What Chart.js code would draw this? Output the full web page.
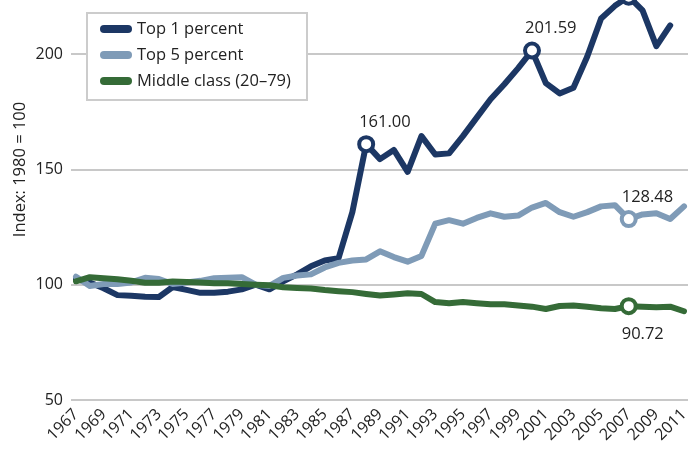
<!DOCTYPE html>
<html>
<head>
<meta charset="utf-8">
<script src="https://cdn.jsdelivr.net/npm/chart.js@4.4.0/dist/chart.umd.min.js"></script>
<style>
  html, body { margin: 0; padding: 0; background: #ffffff; overflow: hidden; }
  #wrap { position: relative; width: 688px; height: 450px; overflow: hidden; }
  #c { position: absolute; left: 0; top: -61px; }
</style>
</head>
<body>
<div id="wrap"><canvas id="c" width="688" height="520"></canvas></div>
<script>
// ---- Data ----
const years = [1967,1968,1969,1970,1971,1972,1973,1974,1975,1976,1977,1978,1979,1980,1981,1982,1983,1984,1985,1986,1987,1988,1989,1990,1991,1992,1993,1994,1995,1996,1997,1998,1999,2000,2001,2002,2003,2004,2005,2006,2007,2008,2009,2010,2011];
const seriesNames = ["Top 1 percent", "Top 5 percent", "Middle class (20\u201379)"];
const top1 = [102.5,101,98.5,95.5,95.2,94.8,94.7,99,97.8,96.5,96.5,97,98,100,98,101.5,104.5,108,110.5,111.5,131.5,161.00,154.5,158.5,149,164.5,156.5,157,164.5,172.5,180.5,187,194,201.59,187.5,183,185.5,199,215.5,221,225,219,203.5,212.5,null];
const top5 = [103.5,99.5,100.3,100.3,101,103,102.5,100.3,101,101.7,102.8,103,103.3,100,99.5,103,104,104.5,107.5,109.5,110.5,111,114.5,112,110,112.5,126.5,128,126.5,129,131,129.5,130,133.5,135.5,131.5,129.5,131.5,134,134.5,128.48,130.5,131,128.5,134];
const middle = [101.5,103.3,102.8,102.4,101.7,100.9,100.9,101.4,101.2,101,100.7,100.6,100.3,100,99.8,98.9,98.6,98.4,97.7,97.2,96.8,96,95.3,95.8,96.3,96,92.5,92,92.5,92,91.5,91.5,91,90.5,89.5,90.8,91,90.5,89.8,89.5,90.72,90.5,90.2,90.5,88.5];
const yTicks = [50,100,150,200,250];
const xTickYears = years.filter(y => y % 2 === 1);
const top1Marked = [1988, 2000, 2007];
const top5Marked = [2007];
const middleMarked = [2007];

const colors = ["#1c3764", "#7f9bb7", "#356b37"];
const FONT = "'Open Sans', 'Noto Sans', sans-serif";
const TXT = "#222222";

function pts(vals) { return years.map((y, i) => ({ x: y, y: vals[i] })); }
function radii(marked) { return years.map(y => marked.includes(y) ? 7 : 0); }

function ds(i, vals, marked, labelPos, order) {
  return {
    label: seriesNames[i],
    data: pts(vals),
    borderColor: colors[i],
    backgroundColor: colors[i],
    borderWidth: 6,
    borderJoinStyle: 'round',
    borderCapStyle: 'round',
    tension: 0,
    fill: false,
    spanGaps: false,
    pointRadius: radii(marked),
    pointHoverRadius: radii(marked),
    pointBackgroundColor: '#ffffff',
    pointBorderColor: colors[i],
    pointBorderWidth: 4,
    marked: marked,
    labelPos: labelPos,
    order: order
  };
}

const annotate = {
  id: 'annotate',
  afterDatasetsDraw(chart) {
    const ctx = chart.ctx;
    ctx.save();
    ctx.font = "16.5px " + FONT;
    ctx.fillStyle = TXT;
    ctx.textAlign = 'left';
    ctx.textBaseline = 'middle';
    chart.data.datasets.forEach((d, di) => {
      const meta = chart.getDatasetMeta(di);
      d.data.forEach((p, i) => {
        if (!d.marked.includes(p.x) || p.y == null) return;
        const el = meta.data[i];
        const dy = d.labelPos === 'above' ? -22 : 28;
        ctx.fillText(p.y.toFixed(2), el.x - 7, el.y + dy);
      });
    });
    ctx.restore();
  }
};

const legendBox = {
  id: 'legendBox',
  afterDraw(chart) {
    const ctx = chart.ctx;
    const off = 61; // canvas offset above page
    const bx = 87, by = 13 + off, bw = 220, bh = 87;
    ctx.save();
    ctx.fillStyle = '#ffffff';
    ctx.fillRect(bx, by, bw, bh);
    ctx.strokeStyle = '#cccccc';
    ctx.lineWidth = 2;
    ctx.strokeRect(bx, by, bw, bh);
    ctx.font = "16.5px " + FONT;
    ctx.textAlign = 'left';
    ctx.textBaseline = 'middle';
    seriesNames.forEach((name, i) => {
      const cy = by + 16 + i * 26;
      ctx.strokeStyle = colors[i];
      ctx.lineWidth = 8;
      ctx.lineCap = 'round';
      ctx.beginPath();
      ctx.moveTo(104, cy);
      ctx.lineTo(128, cy);
      ctx.stroke();
      ctx.fillStyle = TXT;
      ctx.fillText(name, 137, cy);
    });
    ctx.restore();
  }
};

new Chart(document.getElementById('c'), {
  type: 'line',
  data: {
    datasets: [
      ds(0, top1, top1Marked, 'above', 3),
      ds(1, top5, top5Marked, 'above', 2),
      ds(2, middle, middleMarked, 'below', 1)
    ]
  },
  options: {
    responsive: false,
    devicePixelRatio: 1,
    animation: false,
    layout: { padding: 0 },
    plugins: { legend: { display: false }, tooltip: { enabled: false } },
    scales: {
      x: {
        type: 'linear',
        min: 1966.638,
        max: 2011.29,
        grid: { display: false, drawTicks: false },
        border: { display: false },
        afterBuildTicks(s) { s.ticks = xTickYears.map(v => ({ value: v })); },
        afterFit(s) { s.height = 59; s.paddingLeft = 0; s.paddingRight = 0; },
        ticks: {
          autoSkip: false,
          minRotation: 45,
          maxRotation: 45,
          padding: 5,
          color: TXT,
          font: { family: FONT, size: 16 },
          callback: v => String(v)
        }
      },
      y: {
        min: 50,
        max: 250,
        grid: { color: '#c8c8c8', lineWidth: 2, drawTicks: false },
        border: { display: false },
        afterBuildTicks(s) { s.ticks = yTicks.map(v => ({ value: v })); },
        afterFit(s) { s.width = 71; s.paddingTop = 0; s.paddingBottom = 0; },
        ticks: {
          padding: 8,
          color: TXT,
          font: { family: FONT, size: 16 },
          callback: v => String(v)
        },
        title: {
          display: true,
          text: 'Index: 1980 = 100',
          color: TXT,
          font: { family: FONT, size: 16.5 },
          padding: { top: 10, bottom: 0 }
        }
      }
    }
  },
  plugins: [annotate, legendBox]
});
</script>
</body>
</html>
